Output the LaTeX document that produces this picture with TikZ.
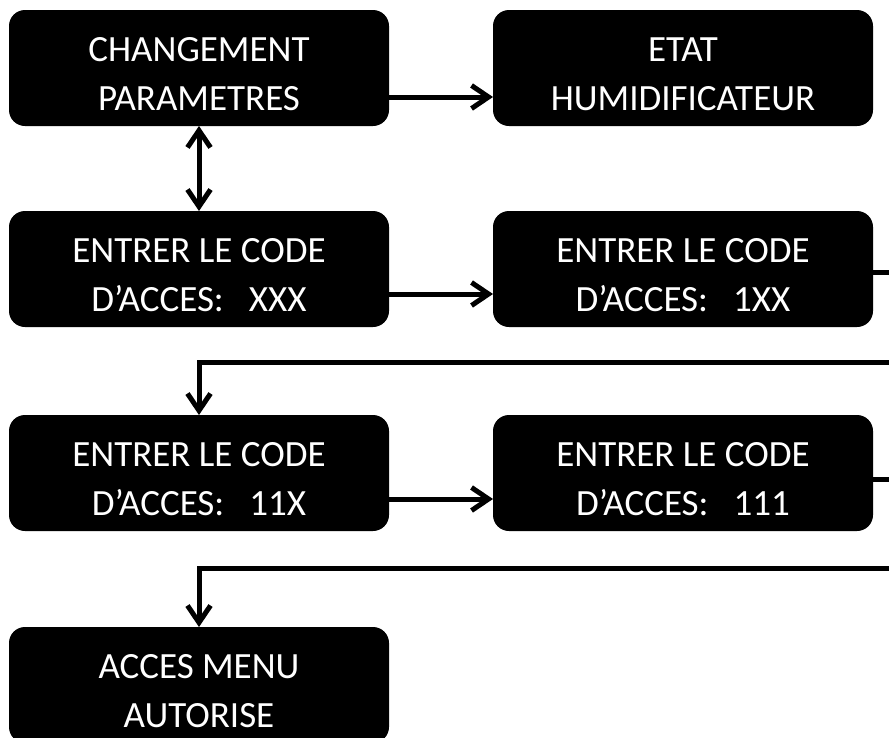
\documentclass[tikz,border=0pt]{standalone}
\usepackage{fontspec}
\setmainfont{Carlito}
\usetikzlibrary{arrows.meta, positioning}
\newcommand{\lowtext}{\rule{0pt}{36pt}}

\begin{document}
\begin{tikzpicture}[x=1pt, y=-1pt]
    % Define styles
    \tikzstyle{screen} = [rectangle, fill=black, text=white, rounded corners=16pt, minimum width=380pt, minimum height=116pt, outer sep=0pt, align=center, font=\fontsize{37}{49}\selectfont\frenchspacing]
    \tikzstyle{link} = [line width=5pt, -{Straight Barb[length=17pt, width=23pt]}]
    \tikzstyle{twoway} = [line width=5pt, {Straight Barb[length=17pt, width=23pt]}-{Straight Barb[length=17pt, width=23pt]}]

    % Frame
    \useasboundingbox (0,0) rectangle (889,737);
    \clip (0,0) rectangle (889,737);

    % Nodes
    \node[screen] (chg) at (199,68) {\lowtext CHANGEMENT\\PARAMETRES};
    \node[screen, right=104pt of chg] (etat) {\lowtext ETAT\\HUMIDIFICATEUR};
    \node[screen, below=85pt of chg] (code0) {\lowtext ENTRER LE CODE\\D’ACCES:~~~XXX};
    \node[screen, right=104pt of code0] (code1) {\lowtext ENTRER LE CODE\\D’ACCES:~~~1XX};
    \node[screen, below=88pt of code0] (code2) {\lowtext ENTRER LE CODE\\D’ACCES:~~~11X};
    \node[screen, right=104pt of code2] (code3) {\lowtext ENTRER LE CODE\\D’ACCES:~~~111};
    \node[screen, below=96pt of code2] (menu) {\lowtext ACCES MENU\\AUTORISE};

    % Turn points
    \coordinate (out1) at ([xshift=40pt, yshift=-3pt]code1.east);
    \coordinate (back1) at ([yshift=53pt]code2.north);
    \coordinate (out2) at ([xshift=40pt, yshift=-6pt]code3.east);
    \coordinate (back2) at ([yshift=59pt]menu.north);

    % Arrows
    \draw[link] ([yshift=-29pt]chg.east) -- ([yshift=-29pt]etat.west);
    \draw[twoway] (chg.south) -- (code0.north);
    \draw[link] ([yshift=-25pt]code0.east) -- ([yshift=-25pt]code1.west);
    \draw[link] ([yshift=-3pt]code1.east) -- (out1) |- (back1) -- (code2.north);
    \draw[link] ([yshift=-26pt]code2.east) -- ([yshift=-26pt]code3.west);
    \draw[link] ([yshift=-6pt]code3.east) -- (out2) |- (back2) -- (menu.north);
\end{tikzpicture}
\end{document}
